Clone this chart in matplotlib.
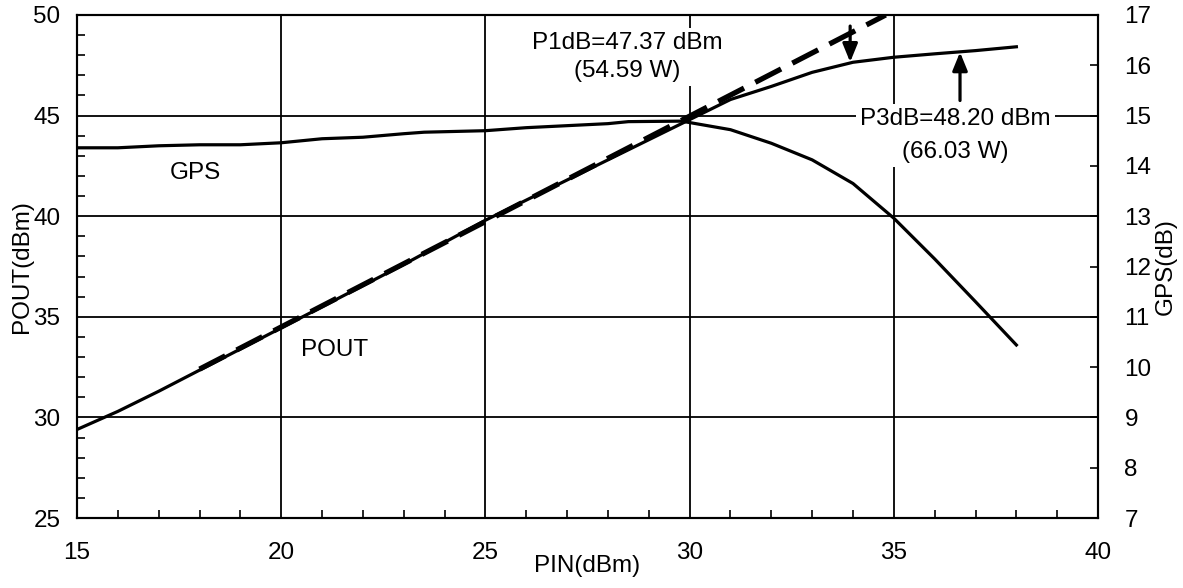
import matplotlib
matplotlib.use("Agg")
import matplotlib.pyplot as plt
from matplotlib.ticker import MultipleLocator

plt.rcParams['font.family'] = ['Liberation Sans', 'DejaVu Sans']

# Input power sweep (dBm)
pin = [15, 16, 17, 18, 19, 20, 21, 22, 23, 24, 25, 26, 27, 28, 29, 30,
       31, 32, 33, 34, 35, 36, 37, 38]
# Output power (dBm)
pout = [29.4, 30.3, 31.3, 32.35, 33.4, 34.45, 35.5, 36.55, 37.6, 38.7, 39.8,
        40.8, 41.8, 42.8, 43.8, 44.8, 45.8, 46.45, 47.15, 47.65, 47.9, 48.07,
        48.23, 48.42]
# Power gain (dB)
pin_g = [15, 16, 17, 18, 19, 20, 21, 22, 23, 23.5, 25, 26, 27, 28, 28.5, 29.8,
         31, 32, 33, 34, 35, 36, 37, 38]
gps = [14.36, 14.36, 14.40, 14.42, 14.42, 14.46, 14.54, 14.57, 14.64, 14.67,
       14.70, 14.76, 14.80, 14.84, 14.88, 14.89, 14.72, 14.45, 14.12, 13.65,
       12.96, 12.15, 11.30, 10.44]
# Ideal linear extrapolation of output power
lin_pin = [18, 34.8]
lin_pout = [32.4, 50.0]

# Compression markers: input power, arrow tail and arrow tip (dBm)
p1db_pin, p1db_tail, p1db_tip = 33.93, 49.45, 47.66
p3db_pin, p3db_tail, p3db_tip = 36.62, 45.75, 48.15

FS = 17.5

fig = plt.figure(figsize=(11.83, 5.88), dpi=100)
ax = fig.add_axes([0.0651, 0.119, 0.8631, 0.8555])
ax2 = ax.twinx()

ax.set_xlim(15, 40)
ax.set_ylim(25, 50)
ax2.set_ylim(7, 17)

ax.xaxis.set_major_locator(MultipleLocator(5))
ax.xaxis.set_minor_locator(MultipleLocator(1))
ax.yaxis.set_major_locator(MultipleLocator(5))
ax.yaxis.set_minor_locator(MultipleLocator(1))
ax2.yaxis.set_major_locator(MultipleLocator(1))

ax.grid(True, which='major', color='black', lw=1.3)
ax.set_axisbelow(True)

for a in (ax, ax2):
    for s in a.spines.values():
        s.set_linewidth(1.5)
        s.set_color('black')

ax.tick_params(axis='both', which='both', direction='in', color='black', width=1.2)
ax.tick_params(axis='both', which='major', length=0, labelsize=FS)
ax.tick_params(axis='both', which='minor', length=6)
ax.tick_params(axis='x', which='major', pad=17)
ax.tick_params(axis='y', which='major', pad=12)
ax2.tick_params(axis='y', which='major', direction='in', length=6, width=1.2,
                labelsize=FS, pad=19)

ax.plot(pin, pout, color='black', lw=2.3, zorder=3)
ax.plot(lin_pin, lin_pout, color='black', lw=3.8, ls=(0, (5.5, 2.4)), zorder=3)
ax2.plot(pin_g, gps, color='black', lw=2.3, zorder=3)

ax.set_xlabel('PIN(dBm)', fontsize=FS, labelpad=-6)
ax.set_ylabel('POUT(dBm)', fontsize=FS, labelpad=0)
ax2.set_ylabel('GPS(dB)', fontsize=FS, rotation=90, labelpad=2)

box = dict(facecolor='white', edgecolor='none', pad=3)
ax.text(28.47, 47.91, 'P1dB=47.37 dBm\n(54.59 W)', ha='center', va='center',
        fontsize=FS, bbox=box, linespacing=1.38, zorder=4)
ax.text(36.5, 44.01, 'P3dB=48.20 dBm\n(66.03 W)', ha='center', va='center',
        fontsize=FS, bbox=box, linespacing=1.6, zorder=4)

ax.text(17.9, 42.15, 'GPS', ha='center', va='center', fontsize=FS)
ax.text(21.3, 33.35, 'POUT', ha='center', va='center', fontsize=FS)

arrow = dict(arrowstyle='-|>,head_length=1.1,head_width=0.45', lw=2.3,
             color='black', shrinkA=0, shrinkB=0, mutation_scale=10)
ax.annotate('', xy=(p1db_pin, p1db_tip), xytext=(p1db_pin, p1db_tail),
            arrowprops=arrow, zorder=5)
ax.annotate('', xy=(p3db_pin, p3db_tip), xytext=(p3db_pin, p3db_tail),
            arrowprops=arrow, zorder=5)

fig.savefig('out.png', dpi=100, facecolor='white')
